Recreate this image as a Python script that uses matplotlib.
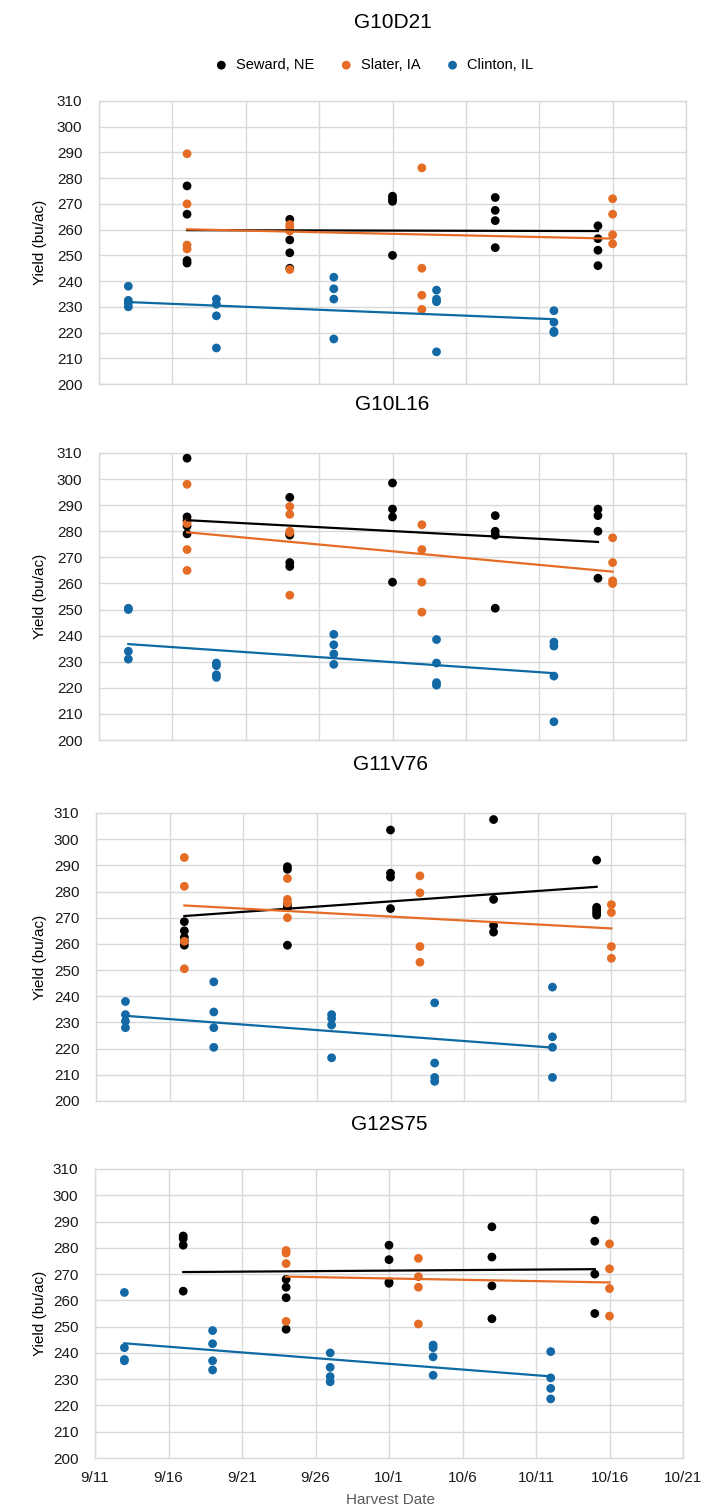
import datetime as dt
import numpy as np
import matplotlib
matplotlib.use('Agg')
from matplotlib import pyplot as plt
import matplotlib.dates as mdates

plt.rcParams['font.family'] = ['Liberation Sans', 'DejaVu Sans']

hybrids = ['G10D21', 'G10L16', 'G11V76', 'G12S75']
sites = ['Seward, NE', 'Slater, IA', 'Clinton, IL']
tickLabels = ['9/11', '9/16', '9/21', '9/26', '10/1', '10/6', '10/11', '10/16', '10/21']
yTicks = [200, 210, 220, 230, 240, 250, 260, 270, 280, 290, 300, 310]

# yields (bu/ac) by harvest date for each hybrid and site
sewardG10D21 = {'9/17': [277, 266, 248, 247], '9/24': [264, 256, 251, 245],
                '10/1': [273, 272, 271, 250], '10/8': [272.5, 267.5, 263.5, 253],
                '10/15': [261.5, 256.5, 252, 246]}
slaterG10D21 = {'9/17': [289.5, 270, 254, 252.5], '9/24': [262, 261, 259.5, 244.5],
                '10/3': [284, 245, 234.5, 229], '10/16': [272, 266, 258, 254.5]}
clintonG10D21 = {'9/13': [238, 232.5, 231.5, 230], '9/19': [233, 231, 226.5, 214],
                 '9/27': [241.5, 237, 233, 217.5], '10/4': [236.5, 233, 232, 212.5],
                 '10/12': [228.5, 224, 220.5, 220]}

sewardG10L16 = {'9/17': [308, 285.5, 284, 282, 279], '9/24': [293, 279, 278.5, 268, 266.5],
                '10/1': [298.5, 288.5, 285.5, 260.5], '10/8': [286, 280, 278.5, 250.5],
                '10/15': [288.5, 286, 280, 262]}
slaterG10L16 = {'9/17': [298, 283, 273, 265], '9/24': [289.5, 286.5, 280, 279.5, 255.5],
                '10/3': [282.5, 273, 260.5, 249], '10/16': [277.5, 268, 261, 260]}
clintonG10L16 = {'9/13': [250.5, 250, 234, 231], '9/19': [229.5, 228.5, 225, 224],
                 '9/27': [240.5, 236.5, 233, 229], '10/4': [238.5, 229.5, 222, 221],
                 '10/12': [237.5, 236, 224.5, 207]}

sewardG11V76 = {'9/17': [268.5, 265, 262.5, 261, 259.5], '9/24': [289.5, 288.5, 275, 274, 259.5],
                '10/1': [303.5, 287, 285.5, 273.5], '10/8': [307.5, 277, 267, 264.5],
                '10/15': [292, 274, 273, 272, 271]}
slaterG11V76 = {'9/17': [293, 282, 261, 250.5], '9/24': [285, 277, 275.5, 270],
                '10/3': [286, 279.5, 259, 253], '10/16': [275, 272, 259, 254.5]}
clintonG11V76 = {'9/13': [238, 233, 230.5, 228], '9/19': [245.5, 234, 228, 220.5],
                 '9/27': [233, 231.5, 229, 216.5], '10/4': [237.5, 214.5, 209, 207.5],
                 '10/12': [243.5, 224.5, 220.5, 209]}

sewardG12S75 = {'9/17': [284.5, 283.5, 281, 263.5], '9/24': [268, 265, 261, 249],
                '10/1': [281, 275.5, 267, 266.5], '10/8': [288, 276.5, 265.5, 253],
                '10/15': [290.5, 282.5, 270, 255]}
slaterG12S75 = {'9/24': [279, 278, 274, 252], '10/3': [276, 269, 265, 251],
                '10/16': [281.5, 272, 264.5, 254]}
clintonG12S75 = {'9/13': [263, 242, 237.5, 237], '9/19': [248.5, 243.5, 237, 233.5],
                 '9/27': [240, 234.5, 231, 229], '10/4': [243, 242, 238.5, 231.5],
                 '10/12': [240.5, 230.5, 226.5, 222.5]}

panelData = [[sewardG10D21, slaterG10D21, clintonG10D21],
             [sewardG10L16, slaterG10L16, clintonG10L16],
             [sewardG11V76, slaterG11V76, clintonG11V76],
             [sewardG12S75, slaterG12S75, clintonG12S75]]

colors = ['#000000', '#e46c24', '#1368a6']
lineColors = ['#000000', '#e46c24', '#0e6aa3']
gridColor = '#d9d9d9'

W, H = 706, 1512
# axes boxes in pixels: left, right, top, bottom
boxes = [(99, 686, 101, 384), (99, 686, 453, 740), (96, 685, 813, 1101), (95, 683, 1169, 1458)]
titleY = [22, 405, 765, 1125]


def toDate(s):
    m, d = s.split('/')
    return dt.datetime(2019, int(m), int(d))


def flatten(byDate):
    xs, ys = [], []
    for k, vals in byDate.items():
        for v in vals:
            xs.append(toDate(k))
            ys.append(v)
    return xs, ys


tickDates = [toDate(t) for t in tickLabels]

fig = plt.figure(figsize=(W / 100, H / 100), dpi=100)

for i, (hyb, box) in enumerate(zip(hybrids, boxes)):
    l, r, t, b = box
    ax = fig.add_axes([l / W, 1 - b / H, (r - l) / W, (b - t) / H])
    for j, site in enumerate(sites):
        xs, ys = flatten(panelData[i][j])
        ax.scatter(xs, ys, s=40, color=colors[j], edgecolors='none', zorder=3, label=site)
        xn = mdates.date2num(xs)
        p = np.polyfit(xn, ys, 1)
        xl = np.array([xn.min(), xn.max()])
        ax.plot(mdates.num2date(xl), np.polyval(p, xl), color=lineColors[j], lw=1.6, zorder=4)

    ax.set_ylim(200, 310)
    ax.set_yticks(yTicks)
    ax.set_xlim(tickDates[0], tickDates[-1])
    ax.set_xticks(tickDates)
    if i == 3:
        ax.set_xticklabels(tickLabels)
    else:
        ax.set_xticklabels([])
    ax.tick_params(length=0, labelsize=11, colors='#1a1a1a')
    ax.tick_params(axis='y', pad=12)
    ax.tick_params(axis='x', pad=9)
    ax.grid(True, color=gridColor, lw=1)
    ax.set_axisbelow(True)
    for sp in ax.spines.values():
        sp.set_color(gridColor)
        sp.set_linewidth(1)

    fig.text((l + r) / 2 / W, 1 - titleY[i] / H, hyb, ha='center', va='center', fontsize=15)
    fig.text(40 / W, 1 - (t + b) / 2 / H, 'Yield (bu/ac)', rotation=90,
             ha='center', va='center', fontsize=11)

    if i == 0:
        handles, labels = ax.get_legend_handles_labels()
        fig.legend(handles, labels, loc='center', bbox_to_anchor=(370 / W, 1 - 65 / H),
                   ncol=3, frameon=False, fontsize=10.5, handletextpad=0.0,
                   columnspacing=1.2, scatterpoints=1, markerscale=1.0)

fig.text(390 / W, 1 - 1500 / H, 'Harvest Date', ha='center', va='center',
         fontsize=11, color='#595959')

fig.savefig('out.png', dpi=100)
